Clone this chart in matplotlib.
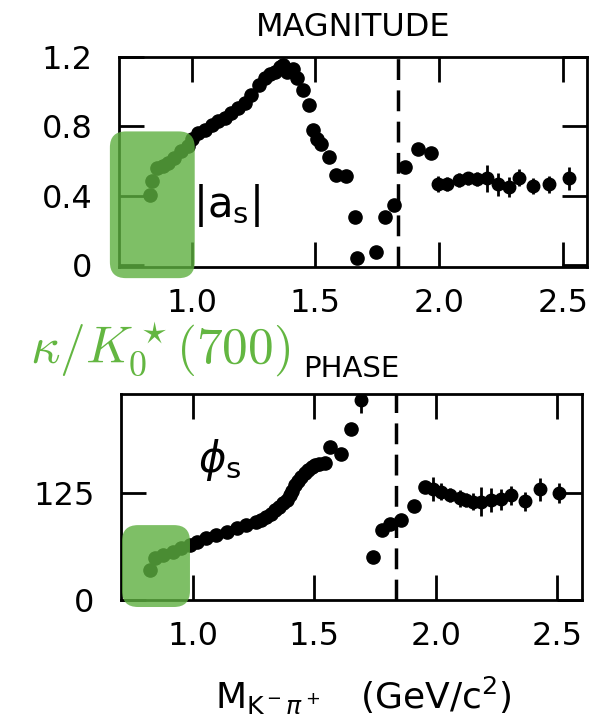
import matplotlib
matplotlib.use('Agg')
import matplotlib.pyplot as plt
from matplotlib.patches import FancyBboxPatch
from matplotlib.transforms import IdentityTransform

# magnitude |a_s| (points without error bars)
mag_x = [0.831, 0.84, 0.858, 0.883, 0.903, 0.93, 0.958, 0.984, 1.00, 1.024,
         1.052, 1.08, 1.105, 1.133, 1.16, 1.185, 1.214, 1.24, 1.27, 1.295,
         1.315, 1.335, 1.355, 1.368, 1.385, 1.41, 1.425, 1.45, 1.475, 1.49,
         1.505, 1.522, 1.554, 1.585, 1.622, 1.66, 1.67, 1.745, 1.78, 1.818,
         1.864, 1.915, 1.966]
mag_y = [0.406, 0.486, 0.56, 0.57, 0.59, 0.62, 0.657, 0.686, 0.726, 0.76,
         0.78, 0.81, 0.83, 0.847, 0.876, 0.905, 0.933, 0.98, 1.04, 1.08,
         1.10, 1.115, 1.143, 1.152, 1.114, 1.133, 1.08, 1.01, 0.924, 0.78,
         0.725, 0.697, 0.623, 0.52, 0.514, 0.276, 0.04, 0.078, 0.276, 0.35,
         0.564, 0.667, 0.648]

# magnitude, high-mass points with error bars
mag_ex = [1.997, 2.034, 2.08, 2.118, 2.155, 2.195, 2.24, 2.282, 2.323, 2.379, 2.444, 2.524]
mag_ey = [0.467, 0.467, 0.49, 0.50, 0.495, 0.50, 0.467, 0.45, 0.505, 0.457, 0.467, 0.50]
mag_err = [0.045, 0.04, 0.04, 0.04, 0.04, 0.08, 0.067, 0.057, 0.05, 0.047, 0.05, 0.065]

# phase phi_s (degrees)
ph_x = [0.823, 0.844, 0.878, 0.919, 0.953, 0.988, 1.015, 1.056, 1.097, 1.139,
        1.18, 1.22, 1.262, 1.28, 1.303, 1.32, 1.337, 1.355, 1.372, 1.386,
        1.40, 1.41, 1.42, 1.433, 1.447, 1.46, 1.475, 1.49, 1.502, 1.52,
        1.543, 1.564, 1.612, 1.651, 1.742, 1.781, 1.813, 1.856, 1.912, 1.955]
ph_y = [35, 48.7, 52.6, 56.4, 60.4, 64, 68, 72, 76, 79.8,
        83.7, 87.6, 91.5, 93, 97.3, 101, 105, 109, 113, 117,
        122.7, 128, 134, 139, 144, 148, 152, 155, 157.7, 159,
        159.7, 179, 171, 200, 50.6, 82, 89, 93.5, 109.5, 131.6]

ph_ex = [1.694, 1.99, 2.023, 2.058, 2.099, 2.125, 2.153, 2.188, 2.229, 2.27, 2.311, 2.37, 2.428, 2.51]
ph_ey = [233.6, 129.3, 126.6, 122.7, 118.8, 117, 114.8, 114.8, 116.8, 117.6, 122.7, 115.6, 129.3, 125.4]
ph_err = [15, 14, 10, 8, 10, 8, 10, 17, 14, 12, 11, 11, 13, 12]

x_ticks = [1.0, 1.5, 2.0, 2.5]
x_labels = ['1.0', '1.5', '2.0', '2.5']
mag_ticks = [0, 0.4, 0.8, 1.2]
mag_labels = ['0', '0.4', '0.8', '1.2']
ph_ticks = [0, 125]
ph_labels = ['0', '125']

threshold = 1.835
green = '#5eb040'

fig = plt.figure(figsize=(6.03, 7.27), dpi=100)
ax1 = fig.add_axes([0.197, 0.6327, 0.776, 0.289])
ax2 = fig.add_axes([0.2007, 0.1747, 0.7645, 0.2834])


def style(ax):
    for s in ax.spines.values():
        s.set_linewidth(2)
    ax.tick_params(direction='in', length=18, width=2, top=True, right=True,
                   labelsize=23)
    ax.tick_params(axis='x', pad=15)
    ax.tick_params(axis='y', pad=19)


# top: magnitude
ax1.plot(mag_x, mag_y, 'o', color='black', ms=9.5)
ax1.errorbar(mag_ex, mag_ey, yerr=mag_err, fmt='o', color='black', ms=9,
             elinewidth=2, capsize=0)
ax1.axvline(threshold, color='black', lw=2.5, ls=(0, (6, 3)))
ax1.set_xlim(0.705, 2.597)
ax1.set_ylim(-0.01, 1.2)
ax1.set_xticks(x_ticks, x_labels)
ax1.set_yticks(mag_ticks, mag_labels)
ax1.set_title('MAGNITUDE', fontsize=23, pad=15)
ax1.text(1.14, 0.343, r'$|\mathrm{a}_\mathrm{s}|$', fontsize=30, ha='center', va='center')
style(ax1)

# bottom: phase
ax2.plot(ph_x, ph_y, 'o', color='black', ms=9.5)
ax2.errorbar(ph_ex, ph_ey, yerr=ph_err, fmt='o', color='black', ms=9,
             elinewidth=2, capsize=0)
ax2.axvline(threshold, color='black', lw=2.5, ls=(0, (6, 3)))
ax2.set_xlim(0.704, 2.603)
ax2.set_ylim(0, 241)
ax2.set_xticks(x_ticks, x_labels)
ax2.set_yticks(ph_ticks, ph_labels)
ax2.set_title('PHASE', fontsize=21, pad=12)
ax2.text(1.11, 163.5, r'$\phi_\mathrm{s}$', fontsize=30, ha='center', va='center')
style(ax2)

fig.text(363 / 603, 1 - 695 / 727,
         r'$\mathrm{M}_{\mathrm{K}^-\pi^+}$   (GeV/c$^2$)',
         fontsize=26, ha='center', va='center')

# green highlight of the kappa region
fig.text(30 / 603, 1 - 349 / 727, r'$\kappa/K_0^\star(700)$', color='#63b641',
         fontsize=37, math_fontfamily='cm', ha='left', va='center')


def green_box(ax, x0, x1, y0, y1):
    (px0, py0), (px1, py1) = ax.transData.transform([(x0, y0), (x1, y1)])
    box = FancyBboxPatch((px0, py0), px1 - px0, py1 - py0,
                         boxstyle='round,pad=0,rounding_size=16',
                         transform=IdentityTransform(), facecolor=green,
                         edgecolor='none', alpha=0.8, zorder=5)
    fig.add_artist(box)


green_box(ax1, 0.669, 1.012, -0.074, 0.771)
green_box(ax2, 0.708, 0.988, -8.2, 87.6)

fig.savefig('out.png', dpi=100)
